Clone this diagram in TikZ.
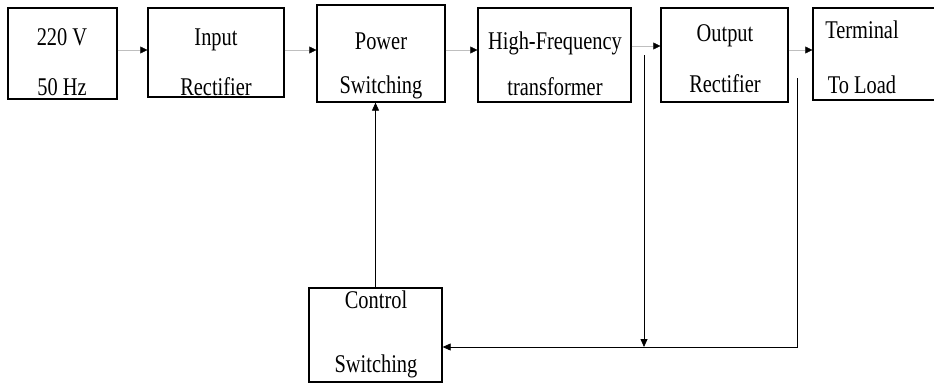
\documentclass[tikz,border=0pt]{standalone}
\usepackage{fontspec}
\setmainfont{Liberation Serif}[FakeStretch=0.8]
\usetikzlibrary{arrows.meta}
\begin{document}
\begin{tikzpicture}[x=1pt,y=-1pt,
  blk/.style={draw=black,line width=1.3pt,inner sep=0pt},
  lbl/.style={anchor=base,inner sep=0pt,font=\fontsize{25.5}{30}\selectfont},
  faint/.style={draw=black!25,line width=0.4pt,-{Triangle[black,length=7pt,width=7pt]}},
  fb/.style={draw=black,line width=0.8pt},
  fba/.style={fb,-{Triangle[black,length=8pt,width=7pt]}}]
\useasboundingbox (0,0) rectangle (934,383);
\fill[white] (0,0) rectangle (934,383);
% blocks
\node[blk,minimum width=109pt,minimum height=91pt] (b1) at (62.5,53.5) {};
\node[blk,minimum width=136pt,minimum height=89pt] (b2) at (216,52.5) {};
\node[blk,minimum width=128pt,minimum height=97pt] (b3) at (381,53.5) {};
\node[blk,minimum width=153pt,minimum height=94pt] (b4) at (554.5,55) {};
\node[blk,minimum width=127pt,minimum height=94pt] (b5) at (724.5,55) {};
\node[blk,minimum width=132pt,minimum height=92pt] (b6) at (879,54) {};
\node[blk,minimum width=133pt,minimum height=94pt] (ctrl) at (375.5,335) {};
% texts
\node[lbl] (t1a) at (62,45) {220 V};
\node[lbl] (t1b) at (62,95) {50 Hz};
\node[lbl] (t2a) at (216,45) {Input};
\node[lbl] (t2b) at (216,95) {Rectifier};
\node[lbl] (t3a) at (381,49) {Power};
\node[lbl] (t3b) at (381,93) {Switching};
\node[lbl] (t4a) at (555,49) {High-Frequency};
\node[lbl] (t4b) at (555,95) {transformer};
\node[lbl] (t5a) at (725,41) {Output};
\node[lbl] (t5b) at (725,92) {Rectifier};
\node[lbl] (t6a) at (862,38) {Terminal};
\node[lbl] (t6b) at (862,93) {To Load};
\node[lbl] (tca) at (376,308) {Control};
\node[lbl] (tcb) at (376,372) {Switching};
% forward connectors
\draw[faint] (b1.east |- 0,50) -- (b2.west |- 0,50);
\draw[faint] (b2.east |- 0,50) -- (b3.west |- 0,50);
\draw[faint] (b3.east |- 0,50) -- (b4.west |- 0,50);
\draw[faint] (b4.east |- 0,46) -- (b5.west |- 0,46);
\draw[faint] (b5.east |- 0,50) -- (b6.west |- 0,50);
% feedback
\coordinate (p1) at (644,55);
\coordinate (q1) at (644,347);
\coordinate (p2) at (797,78);
\coordinate (q2) at (797,347);
\draw[fba] (p1) -- (q1);
\draw[fba] (p2) -- (q2) -- (ctrl.east |- q2);
\draw[fba] (ctrl.north) -- (ctrl.north |- b3.south);
\end{tikzpicture}
\end{document}
